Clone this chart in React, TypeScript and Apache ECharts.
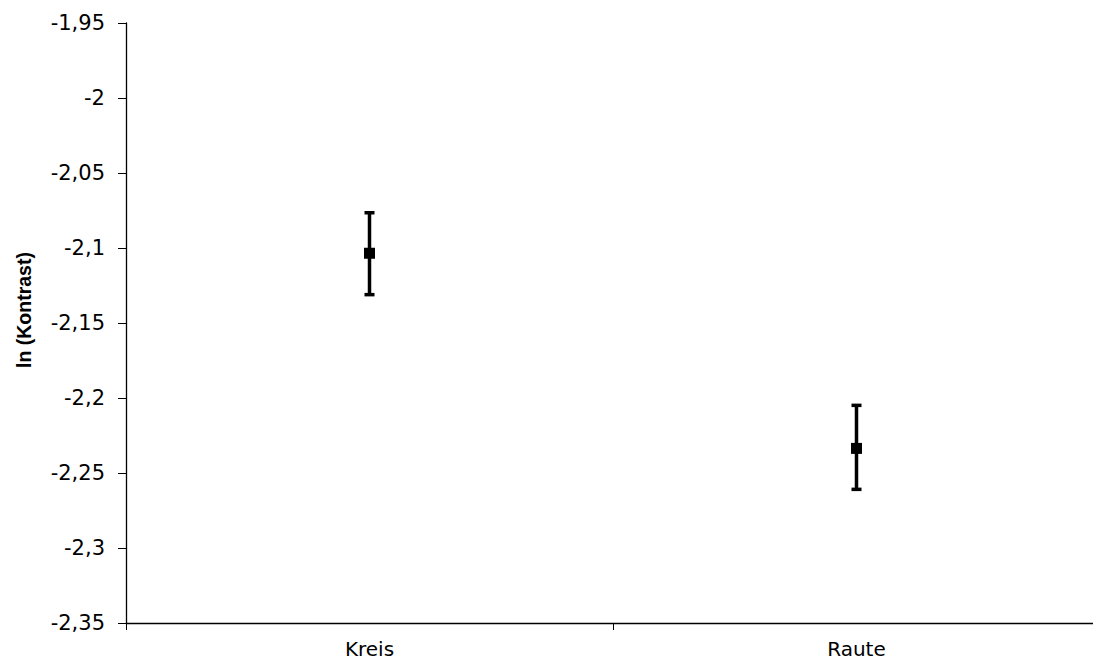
import React, { useEffect, useRef } from "react";
import * as echarts from "echarts";

const categories = ["Kreis", "Raute"];
const means = [-2.1035, -2.2336];
const upper = [-2.0765, -2.2049];
const lower = [-2.1311, -2.2609];
const yTicks = { min: -2.35, max: -1.95, interval: 0.05 };
const yName = "ln (Kontrast)";

const FONT = "DejaVu Sans";

export default function App() {
  const ref = useRef<HTMLDivElement>(null);
  useEffect(() => {
    if (!ref.current) return;
    const chart = echarts.init(ref.current, undefined, { renderer: "svg" });
    const errData = categories.map((c, i) => [i, lower[i], upper[i]]);
    chart.setOption({
      animation: false,
      backgroundColor: "#ffffff",
      grid: { left: 126, right: 0, top: 23, bottom: 40, containLabel: false },
      xAxis: {
        type: "category",
        data: categories,
        boundaryGap: true,
        axisLine: { lineStyle: { color: "#000", width: 1.3 } },
        axisTick: { show: true, length: 7, alignWithLabel: false, lineStyle: { color: "#000" } },
        axisLabel: { color: "#000", fontFamily: FONT, fontSize: 20, margin: 16 },
        splitLine: { show: false },
      },
      yAxis: {
        type: "value",
        min: yTicks.min,
        max: yTicks.max,
        interval: yTicks.interval,
        name: yName,
        nameLocation: "middle",
        nameGap: 92,
        nameRotate: 90,
        nameTextStyle: {
          color: "#000",
          fontFamily: "Liberation Sans",
          fontSize: 19.5,
          fontWeight: "bold",
          padding: [0, 0, 0, 26],
        },
        axisLine: { show: true, lineStyle: { color: "#000", width: 1.3 } },
        axisTick: { show: true, length: 8, lineStyle: { color: "#000" } },
        axisLabel: {
          color: "#000",
          fontFamily: FONT,
          fontSize: 21,
          margin: 21,
          formatter: (v: number) => parseFloat(v.toFixed(2)).toString().replace(".", ","),
        },
        splitLine: { show: false },
      },
      series: [
        {
          type: "custom",
          data: errData,
          renderItem: (params: any, api: any) => {
            const x = api.value(0);
            const lo = api.coord([x, api.value(1)]);
            const hi = api.coord([x, api.value(2)]);
            const hw = 5;
            const style = { stroke: "#000", lineWidth: 3.5 };
            return {
              type: "group",
              children: [
                { type: "line", shape: { x1: lo[0], y1: lo[1], x2: hi[0], y2: hi[1] }, style },
                { type: "line", shape: { x1: lo[0] - hw, y1: lo[1], x2: lo[0] + hw, y2: lo[1] }, style },
                { type: "line", shape: { x1: hi[0] - hw, y1: hi[1], x2: hi[0] + hw, y2: hi[1] }, style },
              ],
            };
          },
          z: 2,
        },
        {
          type: "scatter",
          data: means,
          symbol: "rect",
          symbolSize: 11,
          itemStyle: { color: "#000", opacity: 1 },
          z: 3,
        },
      ],
    });
    return () => chart.dispose();
  }, []);
  return (
    <div
      ref={ref}
      style={{ position: "fixed", left: 0, top: 0, width: 1100, height: 663, background: "#fff" }}
    />
  );
}
